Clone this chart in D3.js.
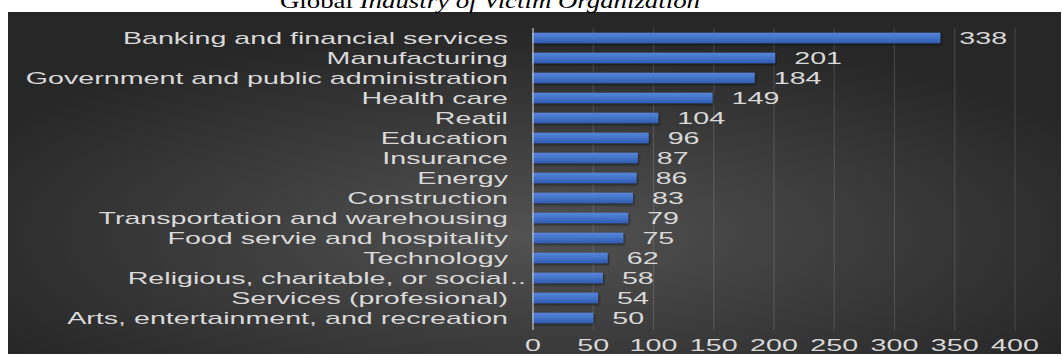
<!DOCTYPE html>
<html>
<head>
<meta charset="utf-8">
<script src="https://cdn.jsdelivr.net/npm/d3@7"></script>
<style>
  body { margin: 0; background: #fff; }
  svg { display: block; }
</style>
</head>
<body>
<svg id="chart"></svg>
<script>
// data, top to bottom
const categories = [
    "Banking and financial services",
    "Manufacturing",
    "Government and public administration",
    "Health care",
    "Reatil",
    "Education",
    "Insurance",
    "Energy",
    "Construction",
    "Transportation and warehousing",
    "Food servie and hospitality",
    "Technology",
    "Religious, charitable, or social..",
    "Services (profesional)",
    "Arts, entertainment, and recreation"
];
const counts = [338, 201, 184, 149, 104, 96, 87, 86, 83, 79, 75, 62, 58, 54, 50];
const xTicks = [0, 50, 100, 150, 200, 250, 300, 350, 400];
const titleText = "Global Industry of Victim Organization";

const W = 1063, H = 356;
const stretch = 1.79; // the picture's text is squashed wide

const svg = d3.select("#chart").attr("width", W).attr("height", H);

const defs = svg.append("defs");
const bg = defs.append("radialGradient").attr("id", "bg")
    .attr("cx", "50%").attr("cy", "65%").attr("r", "60%");
bg.append("stop").attr("offset", "0%").attr("stop-color", "#525252");
bg.append("stop").attr("offset", "100%").attr("stop-color", "#272727");

const barGrad = defs.append("linearGradient").attr("id", "barGrad")
    .attr("x1", 0).attr("y1", 0).attr("x2", 0).attr("y2", 1);
barGrad.append("stop").attr("offset", "0%").attr("stop-color", "#5686dc");
barGrad.append("stop").attr("offset", "50%").attr("stop-color", "#4472c8");
barGrad.append("stop").attr("offset", "100%").attr("stop-color", "#2f5bb0");

const shadow = defs.append("filter").attr("id", "shadow")
    .attr("x", "-5%").attr("y", "-50%").attr("width", "110%").attr("height", "220%");
shadow.append("feDropShadow").attr("dx", 1).attr("dy", 1.5)
    .attr("stdDeviation", 1).attr("flood-color", "#000").attr("flood-opacity", 0.55);

// chart area background
svg.append("rect")
    .attr("x", 8).attr("y", 12)
    .attr("width", 1053).attr("height", 342)
    .attr("fill", "url(#bg)");

// title, cut off at the top as in the picture
const title = svg.append("text")
    .attr("x", 280).attr("y", 8)
    .attr("textLength", 420).attr("lengthAdjust", "spacingAndGlyphs")
    .style("font-family", "'Liberation Serif', 'Times New Roman', serif")
    .style("font-size", "22px")
    .attr("fill", "#000");
title.append("tspan").text("Global ");
title.append("tspan").style("font-style", "italic").text(titleText.replace("Global ", ""));

const margin = { top: 28, bottom: 26, left: 533, right: 48 };
const x = d3.scaleLinear().domain([0, 400]).range([margin.left, W - margin.right]);
const y = d3.scaleBand().domain(categories).range([margin.top, margin.top + 300]).paddingInner(0.47).paddingOuter(0.235);

const plotBottom = margin.top + 302;

// gridlines
svg.selectAll(".grid").data(xTicks.filter(d => d > 0)).join("line").attr("class", "grid")
    .attr("x1", d => x(d)).attr("x2", d => x(d))
    .attr("y1", margin.top).attr("y2", plotBottom)
    .attr("stroke", "#ffffff").attr("stroke-opacity", 0.13).attr("stroke-width", 1.2);

// bars
svg.selectAll(".bar").data(counts).join("rect").attr("class", "bar")
    .attr("x", x(0) - 1)
    .attr("y", (d, i) => y(categories[i]))
    .attr("width", d => x(d) - x(0) + 1)
    .attr("height", y.bandwidth())
    .attr("fill", "url(#barGrad)")
    .attr("filter", "url(#shadow)");

// vertical axis line
svg.append("line")
    .attr("x1", x(0)).attr("x2", x(0))
    .attr("y1", margin.top).attr("y2", plotBottom)
    .attr("stroke", "#bdbdbd").attr("stroke-width", 1.3);

const textColor = "#d9d9d9";
const font = "'Liberation Sans', Arial, sans-serif";

function wideText(sel) {
    return sel.style("font-family", font).style("font-size", "16px").attr("fill", textColor);
}

// category labels
const labelX = x(0) - 25;
categories.forEach((c, i) => {
    const cy = y(c) + y.bandwidth() / 2;
    const main = c.endsWith("..") ? c.slice(0, -2) : c;
    wideText(svg.append("text"))
        .attr("transform", `translate(${labelX},${cy}) scale(${stretch},1)`)
        .attr("text-anchor", "end").attr("dy", "0.36em")
        .text(main);
    if (main !== c) {
        wideText(svg.append("text"))
            .attr("transform", `translate(${labelX + 2},${cy}) scale(${stretch},1)`)
            .attr("dy", "0.36em")
            .text("..");
    }
});

// value labels
svg.selectAll(".val").data(counts).join("text").attr("class", "val")
    .call(wideText)
    .attr("transform", (d, i) => `translate(${x(d) + 19},${y(categories[i]) + y.bandwidth() / 2}) scale(${stretch},1)`)
    .attr("dy", "0.36em")
    .text(d => d);

// x tick labels
svg.selectAll(".xtick").data(xTicks).join("text").attr("class", "xtick")
    .call(wideText)
    .attr("transform", d => `translate(${x(d)},345) scale(${stretch},1)`)
    .attr("text-anchor", "middle").attr("dy", "0.36em")
    .text(d => d);
</script>
</body>
</html>
